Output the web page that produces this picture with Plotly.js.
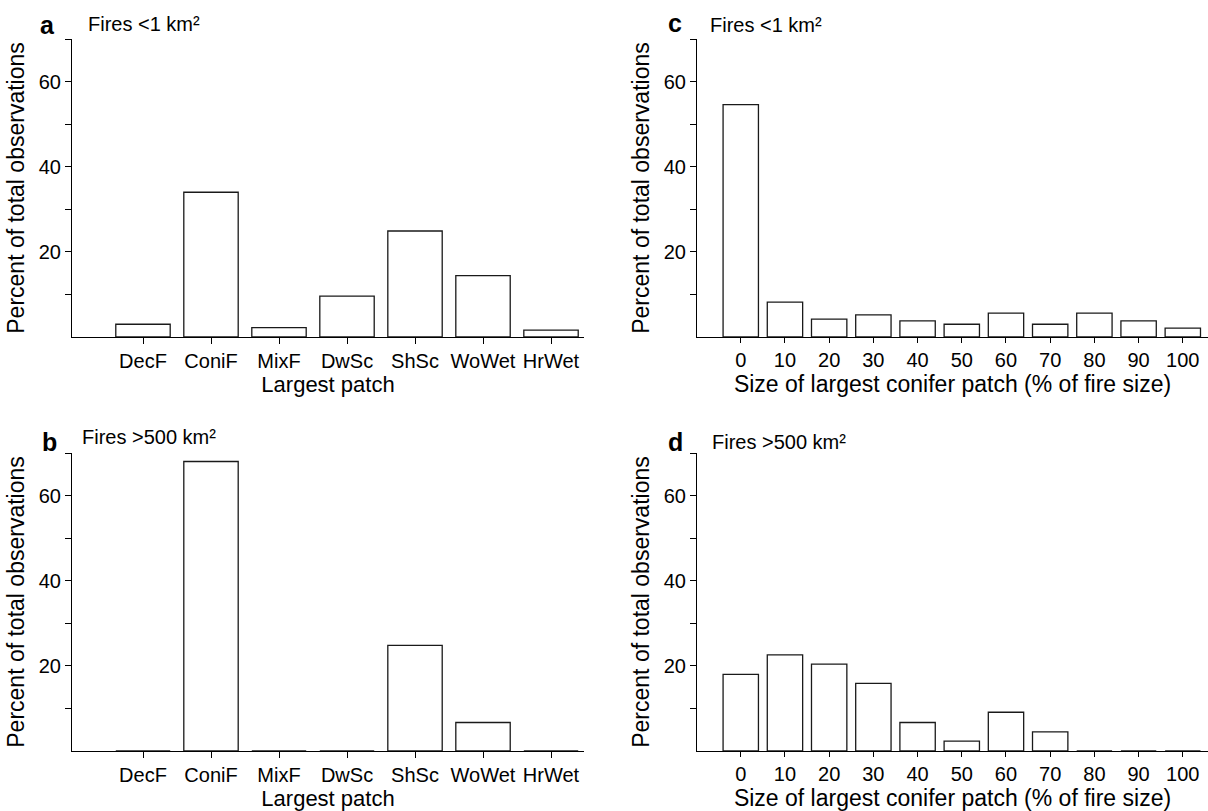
<!DOCTYPE html>
<html><head><meta charset="utf-8">
<script src="https://cdn.plot.ly/plotly-3.0.1.min.js"></script>
<style>html,body{margin:0;padding:0;background:#fff}</style>
</head><body><div id="chart" style="width:1208px;height:811px"></div>
<script>
const patchTypes = ['DecF','ConiF','MixF','DwSc','ShSc','WoWet','HrWet'];
const patchSmallFires = [3.0, 34.0, 2.2, 9.6, 24.9, 14.4, 1.6];
const patchLargeFires = [0, 68.0, 0, 0, 24.8, 6.7, 0];
const coniferSizeBins = [0, 10, 20, 30, 40, 50, 60, 70, 80, 90, 100];
const coniferSmallFires = [54.6, 8.2, 4.2, 5.2, 3.8, 3.0, 5.6, 3.0, 5.6, 3.8, 2.1];
const coniferLargeFires = [18.0, 22.6, 20.4, 15.9, 6.7, 2.3, 9.1, 4.5, 0, 0, 0];
const yMajorTicks = [20, 40, 60];
const yMinorTicks = [10, 30, 50, 70];
const panelLetters = ['a', 'b', 'c', 'd'];
const panelSubtitles = ['Fires &lt;1 km²', 'Fires &gt;500 km²', 'Fires &lt;1 km²', 'Fires &gt;500 km²'];
const xTitlePatch = 'Largest patch';
const xTitleConifer = 'Size of largest conifer patch (% of fire size)';
const yTitle = 'Percent of total observations';

const W = 1208, H = 811;
const FONT = 'Liberation Sans, Arial, Helvetica, sans-serif';
const px = v => v / W;
const py = v => 1 - v / H;

const barStyle = {color: '#ffffff', line: {color: '#1a1a1a', width: 1.3}};

const traces = [
  {type: 'bar', x: patchTypes, y: patchSmallFires, width: 0.8, marker: barStyle, xaxis: 'x', yaxis: 'y', hoverinfo: 'x+y'},
  {type: 'bar', x: patchTypes, y: patchLargeFires, width: 0.8, marker: barStyle, xaxis: 'x2', yaxis: 'y2', hoverinfo: 'x+y'},
  {type: 'bar', x: coniferSizeBins, y: coniferSmallFires, width: 8, marker: barStyle, xaxis: 'x3', yaxis: 'y3', hoverinfo: 'x+y'},
  {type: 'bar', x: coniferSizeBins, y: coniferLargeFires, width: 8, marker: barStyle, xaxis: 'x4', yaxis: 'y4', hoverinfo: 'x+y'}
];

function xCat(domain, anchor) {
  return {
    domain: domain, anchor: anchor, type: 'category', range: [-1.044, 6.485],
    showline: true, linecolor: '#000', linewidth: 1, mirror: false,
    ticks: 'outside', ticklen: 6, tickwidth: 1, tickcolor: '#000',
    showgrid: false, zeroline: false, automargin: false, fixedrange: true,
    tickfont: {family: FONT, size: 20, color: '#000'},
    title: {text: xTitlePatch, font: {family: FONT, size: 22, color: '#000'}, standoff: 4}
  };
}
function xNum(domain, anchor) {
  return {
    domain: domain, anchor: anchor, type: 'linear', range: [-9.9, 105.7],
    tickmode: 'array', tickvals: coniferSizeBins,
    showline: true, linecolor: '#000', linewidth: 1,
    ticks: 'outside', ticklen: 5, tickwidth: 1, tickcolor: '#000',
    showgrid: false, zeroline: false, automargin: false, fixedrange: true,
    tickfont: {family: FONT, size: 20, color: '#000'},
    title: {text: xTitleConifer, font: {family: FONT, size: 23, color: '#000'}, standoff: 4}
  };
}
function yAx(domain, anchor) {
  return {
    domain: domain, anchor: anchor, range: [0, 70],
    tickmode: 'array', tickvals: yMajorTicks,
    minor: {tickmode: 'array', tickvals: yMinorTicks, ticks: 'outside', ticklen: 6, tickwidth: 1, tickcolor: '#000', showgrid: false},
    showline: true, linecolor: '#000', linewidth: 1,
    ticks: 'outside', ticklen: 6, tickwidth: 1, tickcolor: '#000',
    showgrid: false, zeroline: false, automargin: false, fixedrange: true,
    tickfont: {family: FONT, size: 20, color: '#000'},
    title: {text: yTitle, font: {family: FONT, size: 23, color: '#000'}, standoff: 7}
  };
}

const leftX = [px(72), px(584)];
const rightX = [px(697), px(1208)];
const topY = [py(337), py(39)];
const botY = [py(751), py(453)];

const annPos = [
  {lx: 38, ly: 35, sx: 86, sy: 32},
  {lx: 40, ly: 452, sx: 80, sy: 445},
  {lx: 666, ly: 33, sx: 708, sy: 33},
  {lx: 666, ly: 452, sx: 710, sy: 450}
];
const annotations = [];
annPos.forEach((p, i) => {
  annotations.push({
    xref: 'paper', yref: 'paper', x: px(p.lx), y: py(p.ly + 6), xanchor: 'left', yanchor: 'bottom',
    text: '<b>' + panelLetters[i] + '</b>', showarrow: false,
    font: {family: FONT, size: 25, color: '#000'}
  });
  annotations.push({
    xref: 'paper', yref: 'paper', x: px(p.sx), y: py(p.sy + 5), xanchor: 'left', yanchor: 'bottom',
    text: panelSubtitles[i], showarrow: false,
    font: {family: FONT, size: 20, color: '#000'}
  });
});

const layout = {
  width: W, height: H,
  margin: {l: 0, r: 0, t: 0, b: 0, pad: 0},
  paper_bgcolor: '#fff', plot_bgcolor: '#fff',
  showlegend: false, bargap: 0.2,
  font: {family: FONT, color: '#000'},
  xaxis: xCat(leftX, 'y'),
  yaxis: yAx(topY, 'x'),
  xaxis2: xCat(leftX, 'y2'),
  yaxis2: yAx(botY, 'x2'),
  xaxis3: xNum(rightX, 'y3'),
  yaxis3: yAx(topY, 'x3'),
  xaxis4: xNum(rightX, 'y4'),
  yaxis4: yAx(botY, 'x4'),
  annotations: annotations
};

Plotly.newPlot('chart', traces, layout, {displayModeBar: false, staticPlot: true});
</script>
</body></html>
